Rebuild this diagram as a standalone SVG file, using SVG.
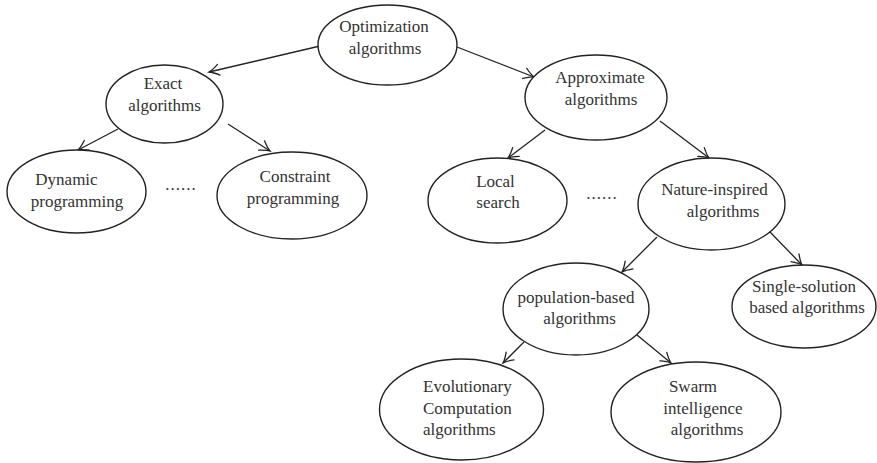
<svg xmlns="http://www.w3.org/2000/svg" width="877" height="463" viewBox="0 0 877 463">
<defs>
<marker id="arr" markerUnits="userSpaceOnUse" markerWidth="14" markerHeight="14" viewBox="-12 -7 14 14" refX="0" refY="0" orient="auto">
<path d="M-10,-5.5 Q-4,-1.2 0,0 Q-4,1.2 -10,5.5" fill="none" stroke="#222" stroke-width="1.3" stroke-linecap="round"/>
</marker>
</defs>
<style>
ellipse{fill:#fff;stroke:#222;stroke-width:1.4}
text{font-family:'Liberation Serif',serif;font-size:17px;fill:#333;text-anchor:middle}
text.l{text-anchor:start}
.edge{stroke:#222;stroke-width:1.3;fill:none;marker-end:url(#arr)}
</style>
<rect width="877" height="463" fill="#fff"/>
<g id="connectors">
<line class="edge" x1="320" y1="46" x2="209" y2="72"/>
<line class="edge" x1="457" y1="47" x2="534" y2="77"/>
<line class="edge" x1="118" y1="129" x2="78" y2="150"/>
<line class="edge" x1="228" y1="124" x2="270" y2="151"/>
<line class="edge" x1="545" y1="130" x2="508" y2="158"/>
<line class="edge" x1="660" y1="121" x2="709" y2="158"/>
<line class="edge" x1="657" y1="237" x2="622" y2="272"/>
<line class="edge" x1="770" y1="232" x2="802" y2="265"/>
<line class="edge" x1="524" y1="342" x2="503" y2="363"/>
<line class="edge" x1="637" y1="335" x2="671" y2="363"/>
</g>
<g id="n-opt">
<ellipse cx="387.5" cy="45" rx="69.5" ry="40"/>
<text x="384" y="32">Optimization</text>
<text x="385" y="54">algorithms</text>
</g>
<g id="n-exact">
<ellipse cx="164.5" cy="104" rx="58.5" ry="39"/>
<text x="163" y="89">Exact</text>
<text x="164.5" y="111">algorithms</text>
</g>
<g id="n-approx">
<ellipse cx="596" cy="97.5" rx="71" ry="42.5"/>
<text x="600" y="83">Approximate</text>
<text x="601" y="105">algorithms</text>
</g>
<g id="n-dynamic">
<ellipse cx="76.5" cy="191.5" rx="69.5" ry="41.5"/>
<text x="66.5" y="185">Dynamic</text>
<text x="77" y="207">programming</text>
</g>
<g id="n-constraint">
<ellipse cx="292" cy="195.5" rx="75" ry="43.5"/>
<text x="295" y="182">Constraint</text>
<text x="293" y="204">programming</text>
</g>
<g id="dots1">
<text x="181" y="190" letter-spacing="1">......</text>
</g>
<g id="n-local">
<ellipse cx="497.5" cy="200.5" rx="69.5" ry="42.5"/>
<text x="495.5" y="187">Local</text>
<text x="498" y="208">search</text>
</g>
<g id="dots2">
<text x="602" y="199" letter-spacing="1">......</text>
</g>
<g id="n-nature">
<ellipse cx="711.5" cy="204" rx="73.5" ry="46"/>
<text x="714.5" y="195">Nature-inspired</text>
<text x="723" y="217">algorithms</text>
</g>
<g id="n-population">
<ellipse cx="576" cy="309" rx="73" ry="46"/>
<text x="576" y="303">population-based</text>
<text x="579.5" y="324">algorithms</text>
</g>
<g id="n-single">
<ellipse cx="804" cy="306.5" rx="72" ry="41.5"/>
<text x="804" y="292">Single-solution</text>
<text x="807" y="313">based algorithms</text>
</g>
<g id="n-evol">
<ellipse cx="461.5" cy="409.5" rx="82" ry="50.5"/>
<text class="l" x="423" y="392">Evolutionary</text>
<text class="l" x="423" y="414">Computation</text>
<text class="l" x="423" y="435">algorithms</text>
</g>
<g id="n-swarm">
<ellipse cx="696" cy="412" rx="85" ry="50"/>
<text x="693" y="392">Swarm</text>
<text x="703" y="414">intelligence</text>
<text x="707" y="435">algorithms</text>
</g>
</svg>
